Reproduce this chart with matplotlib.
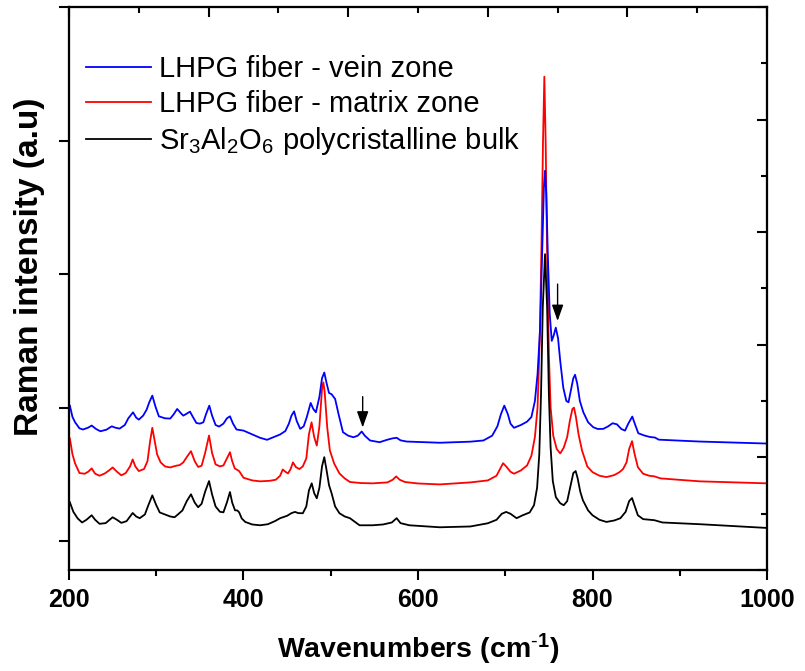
import matplotlib
matplotlib.use("Agg")
import matplotlib.pyplot as plt
from matplotlib.ticker import MultipleLocator, NullFormatter

plt.rcParams['font.family'] = ['Liberation Sans', 'DejaVu Sans']
plt.rcParams['mathtext.fontset'] = 'custom'
plt.rcParams['mathtext.rm'] = 'Liberation Sans'
plt.rcParams['mathtext.it'] = 'Liberation Sans:italic'
plt.rcParams['mathtext.bf'] = 'Liberation Sans:bold'

# Raman spectra: wavenumber (cm-1) and intensity (a.u.)
vein_x = [201, 204, 207, 212, 216, 222, 226, 231, 236, 243, 249, 253, 258, 264,
          268, 273.4, 277, 280, 285, 289, 292, 295.5, 299, 303, 310, 316, 320,
          324, 328, 331, 335, 338.7, 342, 346, 350, 354, 357, 360.8, 364, 368,
          372, 377, 381, 384.5, 388, 392, 400, 410, 419, 427, 435, 442, 448,
          452, 455, 458, 461, 465, 469, 472.5, 477, 480, 483, 487, 490, 492.6,
          495, 498, 501, 505, 509, 514, 520, 526, 531, 535.5, 539, 545, 556,
          565, 571, 575.6, 580, 587, 625, 660, 675, 685, 691, 695, 698.9, 703,
          706, 710, 718, 725, 730, 734, 737, 740, 742.5, 744.3, 745.6, 747,
          749, 751, 753.3, 755.5, 757.9, 760.5, 763, 766.5, 770, 772.5, 775,
          778, 780, 782.5, 785.5, 789.5, 795, 800.9, 806, 812.4, 818, 823, 828,
          833, 837.3, 841, 845.6, 849, 852.5, 860, 866, 871.6, 876, 923, 1000]
vein_y = [1015, 930, 890, 845, 836, 850, 866, 840, 823, 835, 860, 850, 843, 870,
          920, 965, 925, 910, 940, 985, 1040, 1090, 1010, 935, 920, 918, 950,
          990, 960, 940, 955, 970, 930, 885, 880, 890, 950, 1015, 940, 870,
          858, 880, 920, 935, 880, 836, 828, 800, 774, 759, 780, 799, 825,
          880, 940, 972, 900, 841, 860, 928, 1035, 990, 965, 1080, 1220, 1263,
          1190, 1110, 1100, 1065, 950, 816, 790, 778, 790, 821, 790, 754, 741,
          760, 770, 774, 755, 746, 737, 745, 754, 790, 860, 950, 1015, 950,
          880, 849, 870, 895, 930, 1050, 1250, 1600, 2200, 2650, 2774, 2600,
          2100, 1700, 1500, 1540, 1599, 1520, 1350, 1150, 1050, 1040, 1120,
          1220, 1246, 1180, 1050, 965, 890, 853, 840, 841, 860, 883, 875,
          840, 828, 880, 933, 870, 808, 790, 780, 776, 760, 746, 731]

matrix_x = [201, 204, 207, 212, 218, 222, 226, 230, 235, 241, 246, 250, 255, 260,
            265, 270, 273, 276, 280, 286, 290, 293, 295.5, 298, 301, 305, 310,
            316, 320, 323, 327, 331, 335, 339.8, 344, 348, 352, 356, 360.5, 364,
            368, 373, 377, 381, 384.5, 387, 390, 395, 400, 410, 419, 430, 437,
            442, 445, 448, 451, 454, 456.7, 460, 464, 468, 472, 475, 478, 481,
            484, 487, 490, 491.5, 493, 496, 499, 504, 510, 516, 522, 535, 548,
            565, 571, 575, 579, 585, 600, 625, 660, 680, 690, 694, 697.5, 701,
            706, 710, 718, 725, 730, 734, 737, 739.5, 741.5, 743.3, 744.8,
            746.3, 748, 750, 752, 755, 759, 763, 767, 771, 774, 777, 778.8, 781,
            784, 788, 794, 800, 808, 816, 825, 831, 835, 839, 842, 845.3, 848,
            852, 858, 865, 871, 878, 923, 1000]
matrix_y = [769, 650, 582, 510, 505, 520, 545, 505, 490, 507, 530, 552, 520, 493,
            510, 560, 612, 560, 525, 540, 600, 750, 849, 760, 650, 590, 560,
            552, 560, 565, 570, 590, 630, 674, 600, 556, 565, 660, 791, 660,
            575, 560, 567, 620, 666, 600, 545, 525, 475, 455, 448, 452, 460,
            490, 537, 520, 507, 540, 590, 555, 540, 560, 620, 800, 890, 780,
            716, 860, 1140, 1189, 1120, 850, 679, 580, 507, 470, 443, 435, 433,
            440, 460, 485, 460, 443, 432, 425, 440, 455, 490, 540, 584, 560,
            520, 505, 530, 567, 640, 780, 1000, 1500, 2200, 3000, 3478,
            3000, 2150, 1400, 1000, 790, 690, 657, 700, 780, 900, 990, 1000, 930,
            800, 679, 560, 517, 490, 480, 495, 517, 540, 590, 690, 749, 660,
            554, 505, 490, 485, 470, 448, 433]

bulk_x = [201, 205, 210, 215, 220, 226, 230, 235, 242, 250, 255, 260, 266, 273,
          277, 281, 287, 291, 295.5, 300, 304, 310, 316, 321, 325, 330, 335,
          339.8, 344, 348, 352, 356, 360.5, 364, 368, 373, 377, 381, 384.5, 387,
          390.3, 393, 395, 398, 402, 410, 419, 428, 436, 442, 450, 455, 459, 463,
          468, 472, 475, 478.2, 481, 484, 487, 490, 492.6, 495, 498, 501, 505,
          510, 516, 522, 533, 548, 560, 570, 575.5, 580, 590, 625, 660, 680,
          690, 696, 701, 706, 713, 720, 728, 733, 736.5, 739, 741, 743, 745.6,
          748, 750, 752, 754.5, 758, 763, 767, 771, 775, 778, 780.7, 783, 786,
          789, 795, 800, 808, 816, 825, 832, 838, 842, 845.3, 848, 852, 858, 866,
          871, 880, 923, 1000]
bulk_y = [291, 220, 170, 140, 160, 194, 160, 130, 135, 179, 160, 137, 150, 211,
          185, 172, 200, 270, 343, 270, 215, 200, 185, 179, 201, 230, 300,
          351, 290, 254, 280, 370, 450, 350, 260, 220, 216, 290, 368, 290,
          231, 230, 216, 170, 144, 125, 119, 127, 150, 172, 190, 210, 219, 210,
          209, 260, 380, 433, 360, 321, 400, 560, 629, 540, 420, 358, 260,
          209, 185, 172, 119, 119, 125, 140, 172, 135, 119, 104, 110, 134,
          160, 205, 219, 205, 172, 194, 215, 270, 400, 650, 1100, 1750, 2149,
          1750, 1100, 700, 450, 330, 284, 269, 300, 420, 510, 525, 470, 370,
          306, 230, 194, 160, 144, 155, 172, 220, 300, 323, 270, 194, 165, 160,
          157, 140, 127, 99]

labels = ['LHPG fiber - vein zone',
          'LHPG fiber - matrix zone',
          r'Sr$_3$Al$_2$O$_6$ polycristalline bulk']

# Marked bands (wavenumber, arrow tail, arrow tip)
arrow_x = [536.6, 760.0]
arrow_tail = [1082, 1925]
arrow_tip = [851, 1649]

fig = plt.figure(figsize=(8.05, 6.71), dpi=100)
ax = fig.add_axes([0.0857, 0.1505, 0.8671, 0.8391])

l_red, = ax.plot(matrix_x, matrix_y, color='#ff0000', lw=1.3)
l_blue, = ax.plot(vein_x, vein_y, color='#0000ff', lw=1.3)
l_black, = ax.plot(bulk_x, bulk_y, color='black', lw=1.3)

for x, t0, t1 in zip(arrow_x, arrow_tail, arrow_tip):
    ax.annotate('', xy=(x, t1), xytext=(x, t0),
                arrowprops=dict(arrowstyle='-|>,head_length=0.7,head_width=0.25',
                                color='black', lw=1.0, mutation_scale=14,
                                shrinkA=0, shrinkB=0))

ax.set_xlim(200, 1000)
ax.set_ylim(-216, 4000)

ax.xaxis.set_major_locator(MultipleLocator(200))
ax.xaxis.set_minor_locator(MultipleLocator(100))
ax.yaxis.set_major_locator(MultipleLocator(1000))
ax.yaxis.set_major_formatter(NullFormatter())
ax.tick_params(axis='x', which='major', direction='out', length=7, width=1.5,
               labelsize=18, pad=6)
ax.tick_params(axis='x', which='minor', direction='out', length=4, width=1.5)
ax.tick_params(axis='y', which='major', direction='out', length=7, width=1.5)
for lab in ax.get_xticklabels():
    lab.set_fontweight('bold')

for s in ax.spines.values():
    s.set_linewidth(1.5)

# top and right frame ticks (inward, tenths of the frame)
axt = ax.twiny()
axt.set_xlim(0, 1)
axt.xaxis.set_major_locator(MultipleLocator(0.2))
axt.xaxis.set_minor_locator(MultipleLocator(0.1))
axt.tick_params(axis='x', which='major', direction='in', length=7, width=1.5,
                labeltop=False)
axt.tick_params(axis='x', which='minor', direction='in', length=4, width=1.5)

axr = ax.twinx()
axr.set_ylim(0, 1)
axr.yaxis.set_major_locator(MultipleLocator(0.2))
axr.yaxis.set_minor_locator(MultipleLocator(0.1))
axr.tick_params(axis='y', which='major', direction='in', length=7, width=1.5,
                labelright=False)
axr.tick_params(axis='y', which='minor', direction='in', length=4, width=1.5)
for a in (axt, axr):
    for s in a.spines.values():
        s.set_linewidth(1.5)

ax.set_xlabel(r'Wavenumbers (cm$^{\text{-}\mathbf{1}}$)', fontsize=20.5,
              fontweight='bold', labelpad=14)
ax.set_ylabel('Raman intensity (a.u)', fontsize=24, fontweight='bold')
ax.yaxis.set_label_coords(-0.034, 0.538)

leg = axr.legend([l_blue, l_red, l_black], labels, loc='upper left',
                 bbox_to_anchor=(0.0, 0.945), frameon=False, fontsize=21,
                 handlelength=2.2, handletextpad=0.3, labelspacing=0.23,
                 borderaxespad=0.2)

fig.savefig('out.png', dpi=100)
